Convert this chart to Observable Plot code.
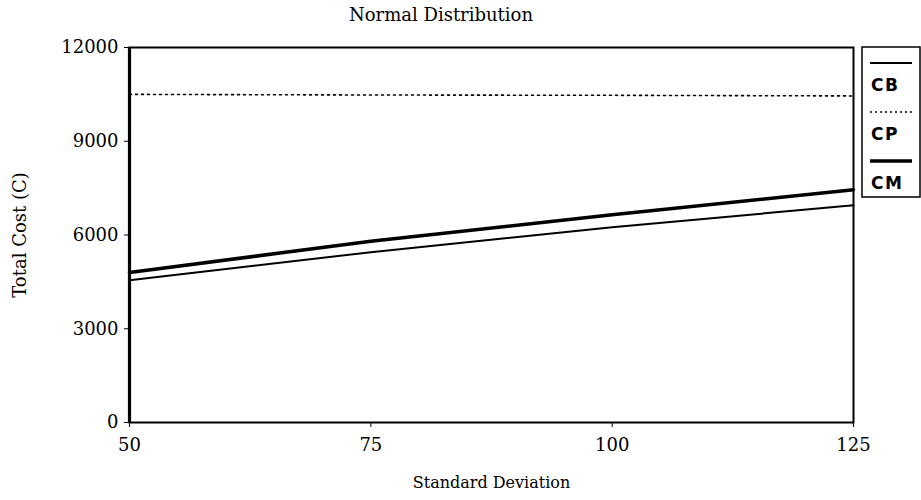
<!DOCTYPE html>
<html>
<head>
<meta charset="utf-8">
<script src="https://cdn.jsdelivr.net/npm/d3@7"></script>
<script src="https://cdn.jsdelivr.net/npm/@observablehq/plot@0.6"></script>
<style>
  html, body { margin: 0; padding: 0; background: #fff; }
  #wrap { position: relative; width: 921px; height: 500px; overflow: hidden; background: #fff; }
  #title { position: absolute; left: 0; top: 0; width: 882px; height: 30px; text-align: center;
           font-family: "DejaVu Serif", serif; font-size: 18px; line-height: 30px; color: #000; }
  #chart { position: absolute; left: 0; top: 30px; }
  #legend { position: absolute; left: 861px; top: 46px; }
</style>
</head>
<body>
<div id="wrap">
  <div id="title">Normal Distribution</div>
  <div id="chart"></div>
  <div id="legend"></div>
</div>
<script>
// ---- data ----
const stdDev = [50, 75, 100, 125];
const cbValues = [4550, 5450, 6250, 6950];
const cpValues = [10500, 10480, 10470, 10450];
const cmValues = [4800, 5800, 6650, 7450];
const xTicks = [50, 75, 100, 125];
const yTicks = [0, 3000, 6000, 9000, 12000];
const seriesNames = ["CB", "CP", "CM"];
const xLabel = "Standard Deviation";
const yLabel = "Total Cost (C)";

const toRows = vals => stdDev.map((x, i) => ({x, y: vals[i]}));
const cbRows = toRows(cbValues);
const cpRows = toRows(cpValues);
const cmRows = toRows(cmValues);

const chart = Plot.plot({
  width: 921,
  height: 470,
  marginLeft: 129,
  marginRight: 68,
  marginTop: 17,
  marginBottom: 78,
  style: {fontFamily: "'DejaVu Serif', serif", fontSize: "17px", color: "#000", background: "#fff"},
  x: {domain: [stdDev[0], stdDev[stdDev.length - 1]]},
  y: {domain: [yTicks[0], yTicks[yTicks.length - 1]]},
  marks: [
    Plot.frame({stroke: "#000", strokeWidth: 2}),
    Plot.ruleX([stdDev[0]], {stroke: "#000", strokeWidth: 3.2}),
    Plot.axisX({ticks: xTicks, tickSize: 5, tickPadding: 11, tickFormat: d => String(d),
      label: null, fontSize: 18}),
    Plot.axisY({ticks: yTicks, tickSize: 5, tickPadding: 6, tickFormat: d => String(d),
      label: yLabel, labelAnchor: "center", labelArrow: false, labelOffset: 116, fontSize: 18}),
    Plot.text([xLabel], {text: d => d, frameAnchor: "bottom", dy: 60, lineAnchor: "middle", fontSize: 16}),
    Plot.line(cbRows, {x: "x", y: "y", stroke: "#000", strokeWidth: 2}),
    Plot.line(cpRows, {x: "x", y: "y", stroke: "#000", strokeWidth: 1.6, strokeDasharray: "2,4"}),
    Plot.line(cmRows, {x: "x", y: "y", stroke: "#000", strokeWidth: 3.5})
  ]
});
document.getElementById("chart").appendChild(chart);

// ---- legend ----
const lw = 58, lh = 150;
const leg = d3.select("#legend").append("svg").attr("width", lw + 2).attr("height", lh + 2);
leg.append("rect").attr("x", 1).attr("y", 1).attr("width", lw).attr("height", lh)
  .attr("fill", "#fff").attr("stroke", "#000").attr("stroke-width", 1.5);
const styles = [
  {w: 2, dash: null},
  {w: 1.6, dash: "2,3"},
  {w: 3.5, dash: null}
];
seriesNames.forEach((name, i) => {
  const y0 = 17 + i * 49;
  leg.append("line").attr("x1", 9).attr("x2", 51).attr("y1", y0).attr("y2", y0)
    .attr("stroke", "#000").attr("stroke-width", styles[i].w)
    .attr("stroke-dasharray", styles[i].dash);
  leg.append("text").attr("x", 10).attr("y", y0 + 28)
    .attr("font-family", "'DejaVu Sans', sans-serif").attr("font-weight", "bold")
    .attr("font-size", 17).attr("letter-spacing", 1.5).text(name);
});
</script>
</body>
</html>
